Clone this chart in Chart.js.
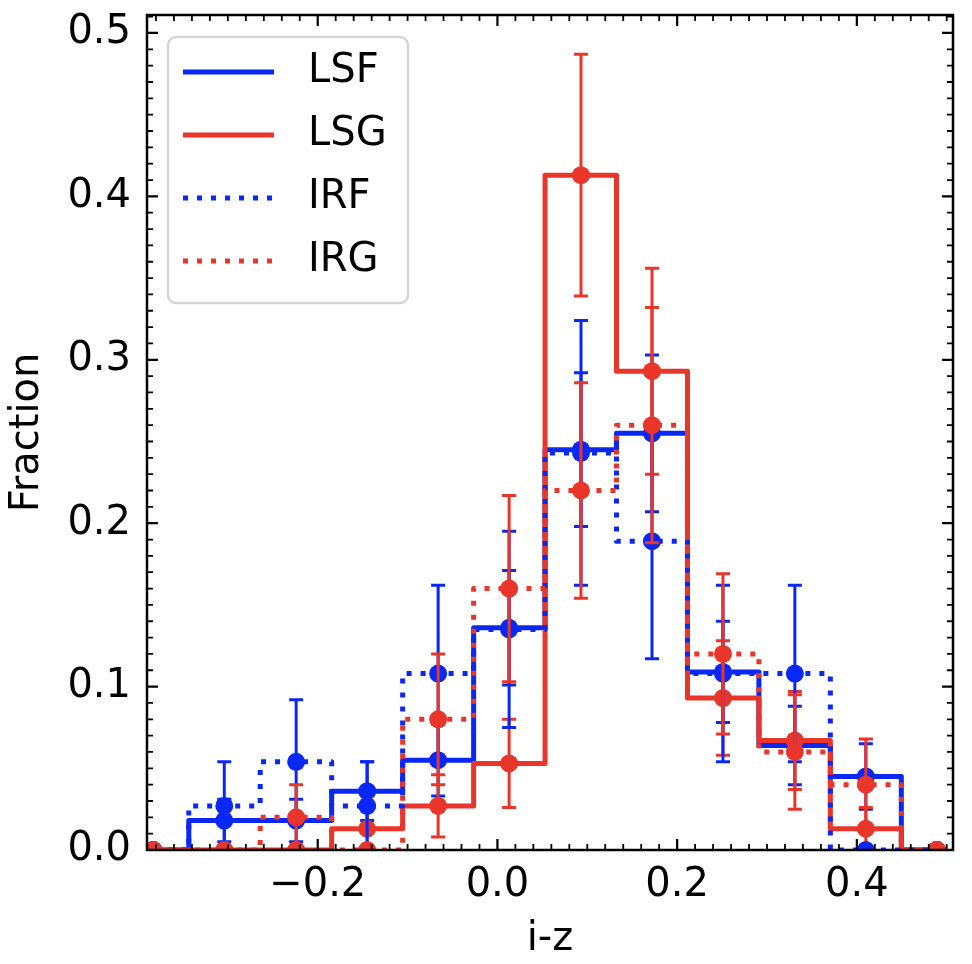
<!DOCTYPE html>
<html>
<head>
<meta charset="utf-8">
<script src="https://cdn.jsdelivr.net/npm/chart.js@4.4.1/dist/chart.umd.min.js"></script>
<style>
  html, body { margin: 0; padding: 0; background: #fff; }
  #wrap { width: 972px; height: 964px; }
</style>
</head>
<body>
<div id="wrap"><canvas id="fracChart" width="972" height="964"></canvas></div>
<script>
// bin centres in i-z
const binCenters = [-0.383, -0.304, -0.224, -0.145, -0.066, 0.013, 0.093, 0.172, 0.251, 0.331, 0.410, 0.489];

// fraction per bin and its error, one pair per sample
const lsfFrac = [0, 0.018, 0.018, 0.036, 0.055, 0.136, 0.245, 0.255, 0.109, 0.064, 0.045, 0];
const lsfErr  = [0, 0.013, 0.013, 0.018, 0.022, 0.035, 0.047, 0.048, 0.031, 0.024, 0.020, 0];

const lsgFrac = [0, 0, 0, 0.013, 0.027, 0.053, 0.413, 0.293, 0.093, 0.067, 0.013, 0];
const lsgErr  = [0, 0, 0, 0.013, 0.019, 0.027, 0.074, 0.063, 0.035, 0.030, 0.013, 0];

const irfFrac = [0, 0.027, 0.054, 0.027, 0.108, 0.135, 0.243, 0.189, 0.108, 0.108, 0, 0];
const irfErr  = [0, 0.027, 0.038, 0.027, 0.054, 0.060, 0.081, 0.072, 0.054, 0.054, 0, 0];

const irgFrac = [0, 0, 0.02, 0, 0.08, 0.16, 0.22, 0.26, 0.12, 0.06, 0.04, 0];
const irgErr  = [0, 0, 0.02, 0, 0.04, 0.057, 0.066, 0.072, 0.049, 0.035, 0.028, 0];

const xTicks = [-0.2, 0.0, 0.2, 0.4];
const yTicks = [0.0, 0.1, 0.2, 0.3, 0.4, 0.5];

const BLUE = '#0a28f5';
const RED = '#e9352a';
const FONT = "'DejaVu Sans', sans-serif";

Chart.defaults.font.family = FONT;
Chart.defaults.color = '#000';

const series = [
    { label: 'LSF', frac: lsfFrac, err: lsfErr, color: BLUE, dash: [] },
    { label: 'LSG', frac: lsgFrac, err: lsgErr, color: RED,  dash: [] },
    { label: 'IRF', frac: irfFrac, err: irfErr, color: BLUE, dash: [5, 9] },
    { label: 'IRG', frac: irgFrac, err: irgErr, color: RED,  dash: [5, 9] }
];

// error bars go under each dataset's own markers
const errorBars = {
    id: 'errorBars',
    beforeDatasetDraw(chart, args) {
        const ds = chart.data.datasets[args.index];
        const xs = chart.scales.x, ys = chart.scales.y;
        const ctx = chart.ctx, a = chart.chartArea;
        ctx.save();
        ctx.beginPath();
        ctx.rect(a.left, a.top, a.right - a.left, a.bottom - a.top);
        ctx.clip();
        ctx.strokeStyle = ds.borderColor;
        ctx.lineWidth = 3;
        ds.data.forEach((p, k) => {
            const e = ds.errors[k];
            if (!e) return;
            const px = xs.getPixelForValue(p.x);
            const lo = ys.getPixelForValue(p.y - e);
            const hi = ys.getPixelForValue(p.y + e);
            ctx.beginPath();
            ctx.moveTo(px, lo); ctx.lineTo(px, hi);
            ctx.moveTo(px - 7, lo); ctx.lineTo(px + 7, lo);
            ctx.moveTo(px - 7, hi); ctx.lineTo(px + 7, hi);
            ctx.stroke();
        });
        ctx.restore();
    }
};

// box round the plot with inward ticks on all four sides
const frameTicks = {
    id: 'frameTicks',
    afterDatasetsDraw(chart) {
        const ctx = chart.ctx, a = chart.chartArea;
        const xs = chart.scales.x, ys = chart.scales.y;
        ctx.save();
        ctx.strokeStyle = '#000';
        const tickX = (v, len) => {
            const px = xs.getPixelForValue(v);
            ctx.moveTo(px, a.bottom); ctx.lineTo(px, a.bottom - len);
            ctx.moveTo(px, a.top); ctx.lineTo(px, a.top + len);
        };
        const tickY = (v, len) => {
            const py = ys.getPixelForValue(v);
            ctx.moveTo(a.left, py); ctx.lineTo(a.left + len, py);
            ctx.moveTo(a.right, py); ctx.lineTo(a.right - len, py);
        };
        ctx.lineWidth = 1.8;
        ctx.beginPath();
        for (let k = Math.ceil(xs.min / 0.02); k <= Math.floor(xs.max / 0.02); k++) {
            if (k % 10 !== 0) tickX(k * 0.02, 6);
        }
        for (let k = Math.ceil(ys.min / 0.01); k <= Math.floor(ys.max / 0.01); k++) {
            if (k % 10 !== 0) tickY(k * 0.01, 6);
        }
        ctx.stroke();
        ctx.lineWidth = 2.2;
        ctx.beginPath();
        xTicks.forEach(v => tickX(v, 11));
        yTicks.forEach(v => tickY(v, 11));
        ctx.stroke();
        ctx.lineWidth = 2.5;
        ctx.strokeRect(a.left, a.top, a.right - a.left, a.bottom - a.top);
        ctx.restore();
    }
};

const boxLegend = {
    id: 'boxLegend',
    afterDraw(chart) {
        const ctx = chart.ctx;
        ctx.save();
        ctx.beginPath();
        ctx.roundRect(168, 37, 240, 266, 8);
        ctx.fillStyle = 'rgba(255,255,255,0.8)';
        ctx.fill();
        ctx.strokeStyle = '#d6d6d6';
        ctx.lineWidth = 2.5;
        ctx.stroke();
        ctx.font = '40px ' + FONT;
        ctx.textBaseline = 'middle';
        chart.data.datasets.forEach((ds, i) => {
            const cy = 72 + i * 63;
            ctx.beginPath();
            ctx.setLineDash(ds.borderDash);
            ctx.strokeStyle = ds.borderColor;
            ctx.lineWidth = 5;
            ctx.moveTo(183, cy);
            ctx.lineTo(274, cy);
            ctx.stroke();
            ctx.setLineDash([]);
            ctx.fillStyle = '#000';
            ctx.fillText(ds.label, 308, cy);
        });
        ctx.restore();
    }
};

new Chart(document.getElementById('fracChart'), {
    type: 'line',
    data: {
        datasets: series.map((s, i) => ({
            label: s.label,
            data: binCenters.map((x, k) => ({ x: x, y: s.frac[k] })),
            errors: s.err,
            borderColor: s.color,
            backgroundColor: s.color,
            borderWidth: 5,
            borderDash: s.dash,
            borderJoinStyle: 'round',
            stepped: 'middle',
            pointRadius: 9,
            pointHoverRadius: 9,
            pointBorderWidth: 0,
            pointBackgroundColor: s.color,
            clip: 0,
            order: series.length - i
        }))
    },
    options: {
        responsive: false,
        animation: false,
        devicePixelRatio: 1,
        events: [],
        layout: { padding: { top: 15, right: 19, left: 0, bottom: 0 } },
        plugins: { legend: { display: false }, tooltip: { enabled: false } },
        scales: {
            x: {
                type: 'linear',
                min: -0.39,
                max: 0.507,
                grid: { display: false, drawTicks: false },
                border: { display: false },
                afterBuildTicks: s => { s.ticks = xTicks.map(v => ({ value: v })); },
                afterFit: s => { s.height = 114; s.paddingLeft = 0; s.paddingRight = 0; },
                ticks: {
                    autoSkip: false,
                    maxRotation: 0,
                    padding: 12,
                    font: { size: 40 },
                    callback: v => (v < 0 ? '\u2212' : '') + Math.abs(v).toFixed(1)
                },
                title: { display: true, text: 'i-z', font: { size: 40 }, padding: { top: 0, bottom: 0 } }
            },
            y: {
                type: 'linear',
                min: 0,
                max: 0.511,
                grid: { display: false, drawTicks: false },
                border: { display: false },
                afterBuildTicks: s => { s.ticks = yTicks.map(v => ({ value: v })); },
                afterFit: s => { s.width = 147; s.paddingTop = 0; s.paddingBottom = 0; },
                ticks: {
                    autoSkip: false,
                    padding: 16,
                    font: { size: 40 },
                    callback: v => v.toFixed(1)
                },
                title: { display: true, text: 'Fraction', font: { size: 40 }, padding: { top: 4, bottom: 0 } }
            }
        }
    },
    plugins: [errorBars, frameTicks, boxLegend]
});
</script>
</body>
</html>
